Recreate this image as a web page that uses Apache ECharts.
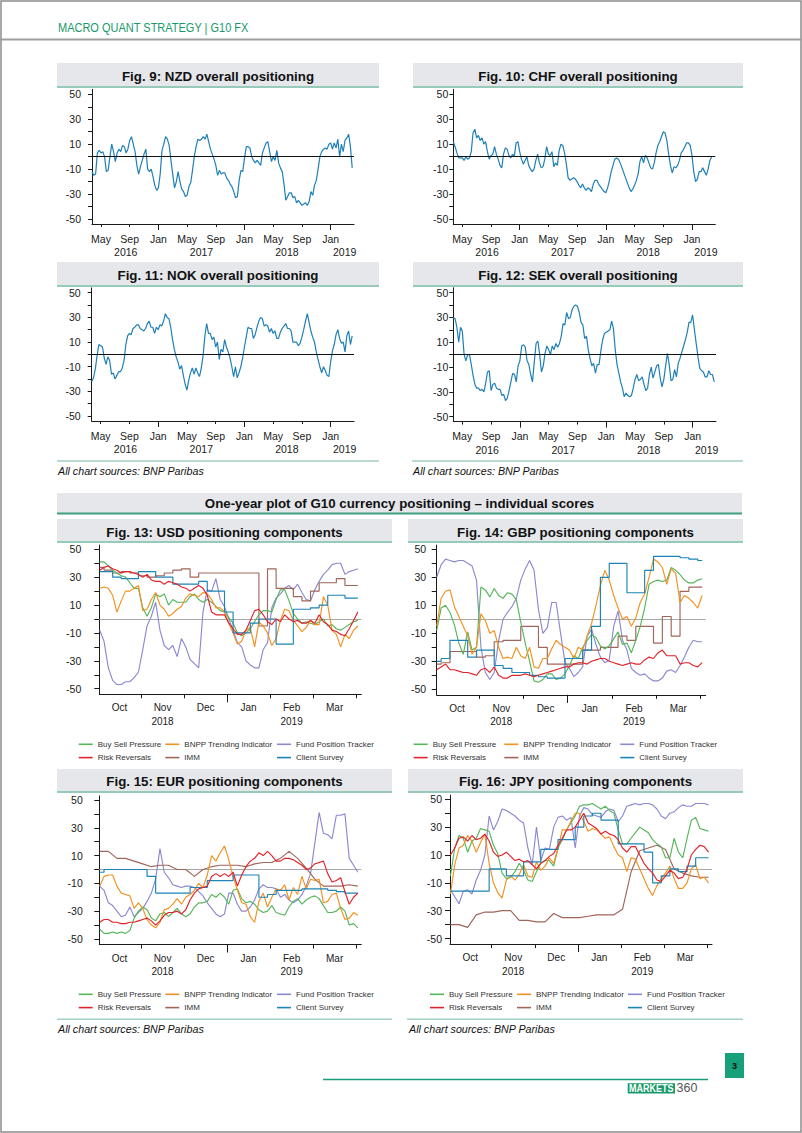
<!DOCTYPE html>
<html>
<head>
<meta charset="utf-8">
<script src="https://cdn.jsdelivr.net/npm/echarts@6.0.0/dist/echarts.min.js"></script>
<style>
html,body{margin:0;padding:0;background:#fff;}
#page{width:802px;height:1133px;}
</style>
</head>
<body>
<div id="page"></div>
<script>
// ---------------- DATA ----------------
// Top charts: quarter-monthly readings, x = months since Jan 2016
const topStartMonth = 2.75;
const topStepMonth = 0.25;
const nzdOverall = [-12,-15,-14,3,5,3,4,0,-12,-11, 0,10,4,-4,3,6,4,9,8,3, 6,13,16,10,4,-7,-14,-8,-3,2, 6,-10,-12,-10,-16,-23,-27,-25,-14,5, 10,16,14,9,-3,-14,-25,-20,-12,-20, -26,-28,-32,-31,-24,-21,-11,0,8,14, 13,14,16,14,18,12,6,2,-2,-7, -15,-11,-14,-13,-13,-17,-19,-22,-24,-28, -33,-32,-19,-11,-12,-1,8,8,7,0, -3,-5,-3,-5,-7,3,7,11,12,4, -4,0,-3,5,-5,-9,-12,-22,-35,-32, -29,-29,-33,-32,-37,-35,-37,-39,-38,-37, -39,-36,-28,-31,-23,-19,-10,0,4,6, 7,6,10,11,6,11,7,14,0,10, 4,13,15,18,8,-9];
const chfOverall = [12,8,3,-1,-1,-1,-3,0,-2,-1, 4,19,22,15,17,13,15,10,12,4, -2,1,2,8,2,-2,-7,-9,2,7, 6,1,-1,2,0,11,12,4,-2,-6, -3,0,-7,-10,-12,-10,-3,2,-5,-9, -8,-2,8,2,1,4,-8,-5,-7,5, 10,9,3,-6,-17,-19,-18,-17,-18,-20, -23,-25,-22,-25,-27,-25,-26,-28,-22,-19, -19,-22,-24,-26,-28,-29,-25,-19,-12,-7, -2,-1,-2,-5,-9,-13,-17,-21,-25,-28, -26,-23,-19,-14,-4,0,-5,1,-1,-5, -9,-10,-5,3,9,12,16,20,19,13, 2,-7,-13,-8,-9,-7,-3,3,5,8, 11,11,9,1,-12,-20,-18,-12,-12,-9, -12,-15,-10,-3,0];
const nokOverall = [-22,-19,-12,-1,8,7,6,-3,-8,-2, -5,-16,-15,-20,-17,-14,-14,-11,-5,8, 15,17,16,21,22,24,24,21,20,19, 21,25,27,22,22,17,22,20,24,23, 27,33,30,29,22,12,4,-2,-6,-12, -9,-17,-24,-29,-21,-15,-11,-16,-11,-15, -18,-11,-1,15,25,17,17,12,14,6, 10,-4,4,2,12,6,2,-3,-10,-18, -10,-19,-15,-10,-3,6,14,22,21,21, 13,16,22,27,30,29,23,24,23,18, 21,17,19,13,13,18,21,23,25,21, 21,19,10,10,10,7,9,14,20,27, 33,26,19,14,10,2,-4,-10,-15,-10, -13,-17,-18,-6,3,8,16,20,13,9, 10,2,15,19,8,15];
const sekOverall = [30,29,22,10,22,19,0,-5,0,0, -8,-17,-24,-27,-27,-29,-28,-30,-23,-14, -13,-29,-24,-23,-27,-28,-28,-33,-32,-37, -35,-29,-22,-15,-16,-22,-9,-5,7,8, 6,-5,-8,-16,-22,-6,9,11,0,-14, -9,1,7,4,0,7,4,9,6,9, 15,25,24,34,29,30,36,39,40,39, 34,26,24,13,15,4,-3,-9,-7,-15, -8,-8,3,12,17,18,19,20,27,21, 4,-8,-15,-22,-27,-34,-31,-33,-34,-33, -27,-20,-16,-21,-20,-18,-24,-29,-27,-16, -10,-19,-14,-9,-8,-19,-26,-20,-9,1, -8,-21,-20,-12,-18,-7,-3,2,7,12, 18,26,26,32,20,9,-2,-11,-13,-14, -18,-18,-13,-16,-16,-22];

// Bottom charts: x = months since Jan 2018.
// Daily-type components read every 0.1 month (61 values), weekly-type (IMM, Client Survey) every 0.2 month (31 values)
const botStartMonth = 9.04;
const botSpanMonths = 6.0;
const componentNames = ['Buy Sell Pressure','BNPP Trending Indicator','Fund Position Tracker','Risk Reversals','IMM','Client Survey'];

const usdBuySell = [41,41,38,35,33,31,30,26,22,22, 8,2,8,18,16,18,10,14,12,12, 12,16,18,14,12,14,12,9,6,5, 1,-3,-10,-12,-10,-7,-2,3,6,6, 5,14,21,21,13,4,0,-3,-2,-3, -4,-2,0,-5,-4,-7,-8,-6,-4,-2, -1];
const usdTrend   = [22,23,22,17,5,13,20,20,22,24, 6,7,14,19,10,7,2,4,7,9, 15,18,17,16,19,18,14,8,8,5, -3,-10,-18,-16,-8,-6,-20,-2,-5,-10, -19,-14,-1,7,6,-1,-5,-9,-6,-1, -4,-4,16,10,-8,-11,-20,-11,-14,-8, -5];
const usdFund    = [-8,-16,-35,-44,-47,-47,-45,-45,-42,-38, -22,-5,2,12,-8,-19,-22,-19,-27,-14, -20,-29,-32,-35,5,21,20,29,14,9, 0,-8,-17,-20,-30,-33,-35,-35,-22,-17, 8,15,18,22,24,21,25,19,14,13, 21,27,32,35,39,40,40,32,34,35, 36];
const usdRisk    = [35,37,38,36,35,33,34,34,33,32, 30,32,28,27,27,25,27,26,25,23, 22,20,22,24,22,17,5,3,3,3, -3,-7,-11,-11,-8,-1,6,7,3,-2, -4,0,-2,3,0,-2,-1,-3,-3,-1, -3,3,-2,-4,-8,-9,-11,-12,-7,-1, 5];
const usdImm     = [37,35,33,34,33,31,30,31,33,35, 36,30,33,33,33,33,33,33,33,-5, 36,22,22,16,13,20,26,26,29,24, 24];
const usdClient  = [34,34,30,29,29,34,34,30,30,25, 25,25,27,20,20,5,-10,-10,-3,0, 0,-18,-18,7,7,8,10,17,17,15, 15];

const gbpBuySell = [-8,8,10,5,-4,-17,-25,-9,-22,-20, 23,21,16,22,17,15,19,18,14,-2, -17,-30,-44,-45,-43,-39,-39,-43,-42,-39, -33,-26,-28,-20,-15,-11,-13,-19,-21,-19, -14,-9,-18,-17,-24,-15,-5,8,25,27, 28,27,28,37,35,32,28,26,26,28, 29];
const gbpTrend   = [-5,15,20,21,9,2,-5,-12,-25,-20, 4,-1,-10,-8,-20,-28,-27,-28,-20,-26, -28,-20,-34,-35,-28,-28,-21,-15,-18,-20, -22,-28,-20,-22,-12,-3,10,24,35,28, 17,8,0,2,-5,1,12,18,30,43, 41,37,25,36,33,12,17,15,12,8, 17];
const gbpFund    = [30,39,43,42,41,42,42,40,38,28, -20,-38,-43,-38,-15,0,5,9,15,28, 36,42,35,7,-10,-6,12,12,-10,-31, -35,-41,-38,-34,-12,-7,-18,-27,-31,-29, -5,6,-15,-22,-35,-38,-40,-39,-42,-44, -44,-42,-37,-36,-38,-33,-27,-20,-15,-16, -16];
const gbpRisk    = [-36,-34,-32,-36,-36,-37,-38,-38,-39,-40, -36,-35,-38,-34,-40,-42,-42,-40,-40,-40, -39,-40,-41,-40,-39,-38,-37,-36,-35,-34, -34,-32,-31,-31,-32,-30,-29,-28,-28,-30, -31,-32,-33,-32,-31,-32,-32,-29,-27,-28, -24,-22,-26,-26,-26,-32,-31,-31,-33,-34, -31];
const gbpImm     = [-32,-31,-23,-23,-23,-27,-26,-16,-15,-15, -5,-5,-20,-32,-32,-32,-32,-22,-22,-20, -20,-12,-15,-5,-5,-17,2,-12,20,23, 23];
const gbpClient  = [-30,-28,-15,-15,-27,-22,-22,-33,-35,-38, -38,-40,-41,-42,-42,-28,-28,-22,-5,30, 40,40,19,19,35,45,45,45,44,43, 42];

const eurBuySell = [-43,-46,-46,-45,-46,-45,-46,-44,-35,-30, -27,-29,-35,-37,-32,-31,-34,-31,-28,-32, -34,-32,-27,-24,-24,-23,-18,-20,-17,-20, -25,-15,-14,-21,-24,-23,-25,-29,-31,-30, -26,-31,-32,-33,-27,-23,-21,-25,-22,-20, -19,-21,-26,-31,-31,-30,-27,-30,-40,-39, -42];
const eurTrend   = [-12,-5,-4,-4,-12,-17,-18,-19,-28,-24, -28,-36,-40,-42,-38,-29,-28,-25,-21,-25, -20,-18,-15,-10,-13,-4,10,6,12,17, 7,-5,-15,-24,-25,-34,-38,-23,-17,-27, -20,-14,-15,-11,-22,-13,-18,-5,-14,-7, -8,-7,-24,-23,-18,-17,-28,-36,-35,-31, -33];
const eurFund    = [-12,-15,-24,-26,-30,-34,-33,-27,-34,-31, -28,-23,-17,-7,15,-2,-6,-11,-12,-13, -12,-12,-13,-16,-19,-24,-28,-32,-34,-32, -17,-17,-25,-30,-30,-27,-22,-14,-11,-13, -13,-14,-20,-18,-22,-24,-22,-18,-12,-3, 19,41,26,25,22,39,39,40,8,3, -2];
const eurRisk    = [-38,-36,-36,-38,-38,-39,-39,-38,-38,-37, -36,-35,-37,-40,-37,-33,-31,-31,-30,-32, -29,-22,-17,-14,-13,-12,-5,-3,-5,-3, -5,-2,-12,-4,2,6,8,12,10,13, 10,6,6,8,8,7,5,3,0,1, 4,5,6,-3,-9,-8,-6,-16,-25,-20, -17];
const eurImm     = [13,13,8,8,6,4,2,3,3,0, 0,-5,0,2,3,3,3,2,4,5, 5,8,13,8,1,-7,-12,-12,-12,-11, -12];
const eurClient  = [-2,0,0,0,0,0,-5,-17,-17,-17, -17,-13,-13,-8,-8,-8,-4,-4,-4,-20, -18,-15,-15,-15,-14,-14,-14,-15,-16,-17, -17];

const jpyBuySell = [-5,15,24,22,12,20,22,29,28,27, 17,11,-3,-7,-6,-2,4,-1,-8,-9, -2,4,6,6,2,15,21,28,33,38, 45,46,46,47,45,43,45,42,40,28, 18,18,22,26,30,28,26,21,18,16, 8,8,22,12,8,22,35,37,29,28, 27];
const jpyTrend   = [-18,3,15,17,24,20,12,19,25,4, -10,-17,-21,-8,-5,-8,-4,3,-5,-6, 5,-1,2,8,4,15,28,28,34,40, 40,34,27,29,28,25,22,23,16,10, 8,-2,8,7,0,-7,-14,-19,-12,-7, -3,2,-7,-14,-14,-10,0,3,-7,-6, -10];
const jpyFund    = [-15,-20,-25,-16,-15,-18,-8,-1,10,38, 28,34,43,42,40,38,35,33,15,3, 30,6,15,14,30,37,38,35,37,15, 38,44,43,39,38,37,41,43,42,34, 38,45,46,47,46,47,47,46,43,38, 36,40,41,44,46,45,45,47,47,47, 46];
const jpyRisk    = [10,15,22,23,20,24,21,22,25,20, 12,9,10,12,9,6,7,5,6,3, 0,4,6,9,11,17,22,28,28,30, 35,40,33,31,29,25,27,25,24,21, 15,12,16,16,10,4,0,-3,-8,-9, -5,-1,-3,-7,-6,0,10,14,17,16, 12];
const jpyImm     = [-40,-40,-42,-33,-31,-31,-30,-30,-37,-37, -38,-38,-32,-35,-35,-35,-34,-33,-33,-33, -29,-2,13,15,17,14,0,-3,-5,-6, -6];
const jpyClient  = [-16,-16,-16,-16,-16,0,0,-5,-5,5, 5,14,14,21,21,30,38,40,35,35, 18,18,18,12,-10,-5,0,-2,2,8, 8];

// Tick labels
const topMonthTicks = [4,8,12,16,20,24,28,32,36];
const topMonthNames = ['May','Sep','Jan','May','Sep','Jan','May','Sep','Jan'];
const topYearTicks = [12,24,36];
const topYearNames = ['2016','2017','2018','2019'];
const topYearPos = [7.45,18,29.9,37.95];
const botMonthPos = [9.5,10.5,11.5,12.5,13.5,14.5];
const botMonthNames = ['Oct','Nov','Dec','Jan','Feb','Mar'];
const botYearUnder = ['','2018','','','2019',''];
const botMonthTicks = [10,11,12,13,14,15];
const yTickValues = [-50,-40,-30,-20,-10,0,10,20,30,40,50];
const yLabelValues = [-50,-30,-10,10,30,50];

const titles = ['Fig. 9: NZD overall positioning','Fig. 10: CHF overall positioning','Fig. 11: NOK overall positioning','Fig. 12: SEK overall positioning','Fig. 13: USD positioning components','Fig. 14: GBP positioning components','Fig. 15: EUR positioning components','Fig. 16: JPY positioning components'];

// ---------------- STYLE ----------------
const FONT = "'Liberation Sans', Arial, Helvetica, sans-serif";
const INK = '#1a1a1a';
const TOP_LINE = '#1f80b8';
const TOP_AXIS_MIN = 2.75, TOP_AXIS_MAX = 39.25;
const COMP_COLORS = {
  'Buy Sell Pressure':'#55b65b',
  'BNPP Trending Indicator':'#f39121',
  'Fund Position Tracker':'#8c89d0',
  'Risk Reversals':'#e3232b',
  'IMM':'#a0665a',
  'Client Survey':'#1d84b6'
};

const grids=[], xAxes=[], yAxes=[], series=[], legends=[], graphics=[];

function findIdx(arr, v){ return arr.findIndex(p => Math.abs(p - v) < 1e-6); }

function addTopChart(r, values, yMargin){
  const g = grids.length;
  grids.push({left:r.x, top:r.y, width:r.w, height:r.h});
  const min = TOP_AXIS_MIN, max = TOP_AXIS_MAX;
  const xi = xAxes.length;
  xAxes.push({type:'value', gridIndex:g, min:min, max:max, position:'bottom',
    axisLine:{show:true, onZero:false, lineStyle:{color:INK, width:1}},
    axisTick:{show:true, customValues:topMonthTicks, length:3, lineStyle:{color:INK}},
    axisLabel:{show:true, customValues:topMonthTicks, fontSize:10.5, color:INK, fontFamily:FONT, margin:8.5, lineHeight:12,
      formatter:v => { const k = findIdx(topMonthTicks, v); return k >= 0 ? topMonthNames[k] : ''; }},
    splitLine:{show:false}});
  xAxes.push({type:'value', gridIndex:g, min:min, max:max, position:'bottom', offset:0,
    axisLine:{show:false, onZero:false},
    axisTick:{show:true, customValues:topYearTicks, length:6, lineStyle:{color:INK}},
    axisLabel:{show:true, customValues:topYearPos, fontSize:10.5, color:INK, fontFamily:FONT, margin:22, lineHeight:12,
      formatter:v => { const k = findIdx(topYearPos, v); return k >= 0 ? topYearNames[k] : ''; }},
    splitLine:{show:false}});
  const yi = yAxes.length;
  yAxes.push({type:'value', gridIndex:g, min:-54, max:54,
    axisLine:{show:true, onZero:false, lineStyle:{color:INK, width:1}},
    axisTick:{show:true, customValues:yTickValues, length:4, lineStyle:{color:INK}},
    axisLabel:{show:true, customValues:yLabelValues, fontSize:10.5, color:INK, fontFamily:FONT, margin:yMargin},
    splitLine:{show:false}});
  series.push({type:'line', xAxisIndex:xi, yAxisIndex:yi, symbol:'none', showSymbol:false,
    data: values.map((v,i) => [topStartMonth + i*topStepMonth, v]),
    color:TOP_LINE, lineStyle:{color:TOP_LINE, width:1.2}, z:2,
    markLine:{silent:true, symbol:['none','none'], label:{show:false}, z:3,
      lineStyle:{color:'#111', width:1, type:'solid'}, data:[{yAxis:0}]}});
}

function addBotChart(r, xmin, xmax, arrays, stepImm, yMargin, leg){
  const g = grids.length;
  grids.push({left:r.x, top:r.y, width:r.w, height:r.h});
  const xi = xAxes.length;
  xAxes.push({type:'value', gridIndex:g, min:xmin, max:xmax, position:'bottom',
    axisLine:{show:true, onZero:false, lineStyle:{color:INK, width:1}},
    axisTick:{show:true, customValues:botMonthTicks, length:4, lineStyle:{color:INK}},
    axisLabel:{show:true, customValues:botMonthPos, fontSize:10, color:INK, fontFamily:FONT, margin:7, lineHeight:13.3,
      formatter:v => { const k = findIdx(botMonthPos, v); if (k < 0) return ''; return botYearUnder[k] ? botMonthNames[k] + '\n' + botYearUnder[k] : botMonthNames[k]; }},
    splitLine:{show:false}});
  xAxes.push({type:'value', gridIndex:g, min:xmin, max:xmax, position:'bottom', offset:0,
    axisLine:{show:false, onZero:false},
    axisTick:{show:true, customValues:[12], length:8, lineStyle:{color:INK}},
    axisLabel:{show:false}, splitLine:{show:false}});
  const yi = yAxes.length;
  yAxes.push({type:'value', gridIndex:g, min:-54, max:53,
    axisLine:{show:true, onZero:false, lineStyle:{color:INK, width:1}},
    axisTick:{show:true, customValues:yTickValues, length:5, lineStyle:{color:INK}},
    axisLabel:{show:true, customValues:yLabelValues, fontSize:10.5, color:INK, fontFamily:FONT, margin:yMargin},
    splitLine:{show:false}});
  // draw order: Fund, IMM, Buy Sell, Trend, Client, Risk
  const order = [2,4,0,1,5,3];
  order.forEach((k, n) => {
    const name = componentNames[k];
    const col = COMP_COLORS[name];
    const vals = arrays[k];
    const step = botSpanMonths / (vals.length - 1);
    const s = {type:'line', name:name, xAxisIndex:xi, yAxisIndex:yi, symbol:'none', showSymbol:false,
      data: vals.map((v,i) => [botStartMonth + i*step, v]),
      color:col, itemStyle:{color:col}, lineStyle:{color:col, width:1.15}, z:2+n};
    if (name === 'Client Survey' || (name === 'IMM' && stepImm)) s.step = 'middle';
    if (n === 0) s.markLine = {silent:true, symbol:['none','none'], label:{show:false}, z:1,
      lineStyle:{color:'#a8a8a8', width:1, type:'solid'}, data:[{yAxis:0}]};
    series.push(s);
  });
  const cols = [[componentNames[0], componentNames[3]], [componentNames[1], componentNames[4]], [componentNames[2], componentNames[5]]];
  cols.forEach((names, c) => {
    legends.push({orient:'vertical', left: leg.tx[c] - 19, top: leg.y - 5, padding:0,
      itemWidth:14, itemHeight:1.6, itemGap:3.3, icon:'rect', selectedMode:false,
      data:names, textStyle:{fontSize:8, color:'#333', fontFamily:FONT, lineHeight:10}});
  });
}

// ---------------- CHARTS ----------------
addTopChart({x:92,    y:89.3,  w:262,   h:134.7}, nzdOverall, 11);
addTopChart({x:453.3, y:89.3,  w:262,   h:134.7}, chfOverall, 5);
addTopChart({x:91.7,  y:287.8, w:262.3, h:133.2}, nokOverall, 11);
addTopChart({x:453.3, y:287.7, w:262.7, h:133.9}, sekOverall, 5);

addBotChart({x:99.3,  y:545.1, w:262, h:149.2}, 9.03, 15.12, [usdBuySell,usdTrend,usdFund,usdRisk,usdImm,usdClient], true, 18, {tx:[97.7,184.3,296], y:744.3});
addBotChart({x:436.7, y:545.1, w:269, h:149.8}, 9.04, 15.12, [gbpBuySell,gbpTrend,gbpFund,gbpRisk,gbpImm,gbpClient], true, 10.5, {tx:[432.7,523.3,639.3], y:744.3});
addBotChart({x:99.3,  y:795.8, w:262, h:148.7}, 9.03, 15.12, [eurBuySell,eurTrend,eurFund,eurRisk,eurImm,eurClient], false, 16.5, {tx:[97.7,184.3,296], y:994.3});
addBotChart({x:450,   y:795.1, w:262, h:149.0}, 9.03, 15.12, [jpyBuySell,jpyTrend,jpyFund,jpyRisk,jpyImm,jpyClient], false, 8, {tx:[449,536,647], y:994.3});

// ---------------- PAGE DECORATION ----------------
function gRect(x,y,w,h,fill,stroke,lw){ return {type:'rect', silent:true, shape:{x:x,y:y,width:w,height:h}, style:{fill:fill||'none', stroke:stroke||null, lineWidth:lw||0}}; }
function gLine(x1,y1,x2,y2,stroke,lw){ return {type:'line', silent:true, shape:{x1:x1,y1:y1,x2:x2,y2:y2}, style:{stroke:stroke, lineWidth:lw}}; }
function gText(x,y,t,font,fill,align,sx){ const e = {type:'text', silent:true, x:x, y:y, style:{text:t, font:font, fill:fill, textAlign:align||'left', textVerticalAlign:'middle'}}; if (sx) e.scaleX = sx; return e; }

graphics.push(gRect(1,1,800,1131,'none','#8c8c8c',1.5));
graphics.push(gText(58,27.5,'MACRO QUANT STRATEGY | G10 FX',"12.5px " + FONT,'#17996b','left',0.88));
graphics.push(gLine(0,39.5,802,39.5,'#9e9e9e',2));

const TITLE_FONT = "bold 13.3px " + FONT;
const bars = [
  {x:57,  y:63,  w:322, h:24, ty:76},
  {x:413, y:63,  w:330, h:24, ty:76},
  {x:57,  y:262, w:322, h:24, ty:275},
  {x:413, y:262, w:330, h:24, ty:275},
  {x:57,  y:519, w:335, h:23, ty:532},
  {x:408, y:519, w:335, h:23, ty:532},
  {x:57,  y:769, w:335, h:23, ty:781.5},
  {x:408, y:769, w:335, h:23, ty:781.5}
];
bars.forEach((b,i) => {
  graphics.push(gRect(b.x,b.y,b.w,b.h,'#e5e7ea'));
  graphics.push(gLine(b.x,b.y+b.h,b.x+b.w,b.y+b.h,'#97cab8',2));
  graphics.push(gText(b.x + b.w/2, b.ty, titles[i], TITLE_FONT, '#111', 'center'));
});

// section band
graphics.push(gRect(57,493,685,20,'#e5e7ea'));
graphics.push(gLine(57,513.5,742,513.5,'#3f9e80',2));
graphics.push(gText(399.5,503.5,'One-year plot of G10 currency positioning \u2013 individual scores', TITLE_FONT, '#111', 'center'));

// sources
const SRC_FONT = "italic 10.7px " + FONT;
graphics.push(gLine(57,461,379,461,'#a3d1c1',1.5));
graphics.push(gLine(412,461,743,461,'#a3d1c1',1.5));
graphics.push(gText(58,470.7,'All chart sources: BNP Paribas',SRC_FONT,'#111','left'));
graphics.push(gText(413,470.7,'All chart sources: BNP Paribas',SRC_FONT,'#111','left'));
graphics.push(gLine(57,1019.3,392,1019.3,'#a3d1c1',1.5));
graphics.push(gLine(407,1019.3,743,1019.3,'#a3d1c1',1.5));
graphics.push(gText(58,1028.5,'All chart sources: BNP Paribas',SRC_FONT,'#111','left'));
graphics.push(gText(409,1028.5,'All chart sources: BNP Paribas',SRC_FONT,'#111','left'));

// footer
graphics.push(gLine(323,1079.5,708,1079.5,'#179c7a',1.5));
graphics.push(gRect(725,1053,19,25,'#17a07a'));
graphics.push(gText(734.5,1066,'3',"bold 9px " + FONT,'#111','center'));
graphics.push(gRect(627.7,1083.3,47.3,10.2,'#1a9a6a'));
graphics.push(gText(651.3,1088.6,'MARKETS',"bold 10.5px " + FONT,'#ffffff','center',0.86));
graphics.push(gText(676.5,1088.3,'360',"12.5px " + FONT,'#555','left'));

const chart = echarts.init(document.getElementById('page'), null, {renderer:'svg', width:802, height:1133});
chart.setOption({
  animation:false,
  backgroundColor:'#ffffff',
  textStyle:{fontFamily:FONT},
  grid:grids, xAxis:xAxes, yAxis:yAxes, series:series, legend:legends,
  graphic:{elements:graphics}
});
</script>
</body>
</html>
